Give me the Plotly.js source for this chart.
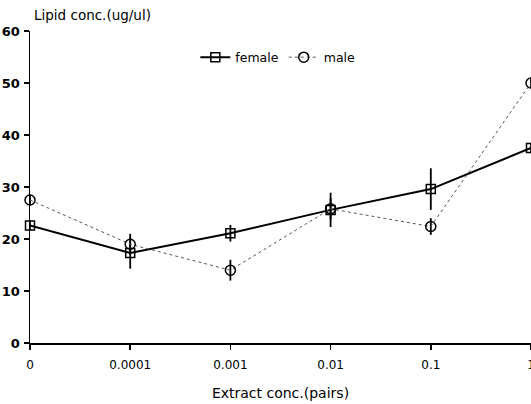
<!DOCTYPE html>
<html>
<head>
<meta charset="utf-8">
<script src="https://cdn.plot.ly/plotly-3.0.1.min.js"></script>
<style>
html,body{margin:0;padding:0;background:#fff;}
#chart{width:531px;height:404px;}
</style>
</head>
<body>
<div id="chart"></div>
<script>
var categories = ["0", "0.0001", "0.001", "0.01", "0.1", "1"];
var femaleValues = [22.6, 17.3, 21.1, 25.6, 29.6, 37.5];
var femaleErrors = [1.0, 3.0, 1.6, 3.3, 4.0, 1.0];
var maleValues = [27.5, 19.0, 14.0, 25.8, 22.4, 50.0];
var maleErrors = [1.0, 2.0, 2.0, 2.0, 1.6, 1.0];
var yTickValues = [0, 10, 20, 30, 40, 50, 60];

var font = {family: "DejaVu Sans, Arial, sans-serif", color: "#000"};

var female = {
  x: categories, y: femaleValues, name: "female", type: "scatter", mode: "lines+markers",
  line: {color: "#000", width: 2, dash: "solid"},
  marker: {symbol: "square-open", size: 9, color: "#000", line: {width: 1.5, color: "#000"}},
  error_y: {type: "data", array: femaleErrors, visible: true, width: 0, thickness: 1.8, color: "#000"},
  cliponaxis: false
};
var male = {
  x: categories, y: maleValues, name: "male", type: "scatter", mode: "lines+markers",
  line: {color: "#555", width: 1, dash: "dot"},
  marker: {symbol: "circle-open", size: 10, color: "#000", line: {width: 1.5, color: "#000"}},
  error_y: {type: "data", array: maleErrors, visible: true, width: 0, thickness: 1.8, color: "#000"},
  cliponaxis: false
};

var layout = {
  width: 531, height: 404,
  margin: {l: 30, r: 0, t: 31, b: 61},
  paper_bgcolor: "#fff", plot_bgcolor: "#fff",
  showlegend: true,
  legend: {orientation: "h", x: 0.33, xanchor: "left", y: 0.915, yanchor: "middle",
           font: Object.assign({size: 12.5}, font), bgcolor: "rgba(0,0,0,0)", tracegroupgap: 0},
  xaxis: {
    type: "category", range: [0, 5], showgrid: false, zeroline: false,
    showline: true, linecolor: "#000", linewidth: 1.5,
    ticks: "outside", ticklen: 5, tickwidth: 1.5, tickcolor: "#000",
    ticklabelstandoff: 5,
    tickfont: Object.assign({size: 12}, font),
    title: {text: "Extract conc.(pairs)", font: Object.assign({size: 14}, font), standoff: 17}
  },
  yaxis: {
    range: [0, 60], tickvals: yTickValues, showgrid: false, zeroline: false,
    showline: true, linecolor: "#000", linewidth: 1.5,
    ticks: "outside", ticklen: 5, tickwidth: 1.5, tickcolor: "#000",
    ticklabelstandoff: 1,
    tickfont: Object.assign({size: 13, weight: "bold"}, font)
  },
  annotations: [{
    text: "Lipid conc.(ug/ul)", xref: "paper", yref: "paper", x: 0.003, y: 1.051,
    xanchor: "left", yanchor: "middle", showarrow: false,
    font: Object.assign({size: 13.5}, font)
  }]
};

Plotly.newPlot("chart", [female, male], layout, {displayModeBar: false, staticPlot: true});
</script>
</body>
</html>
